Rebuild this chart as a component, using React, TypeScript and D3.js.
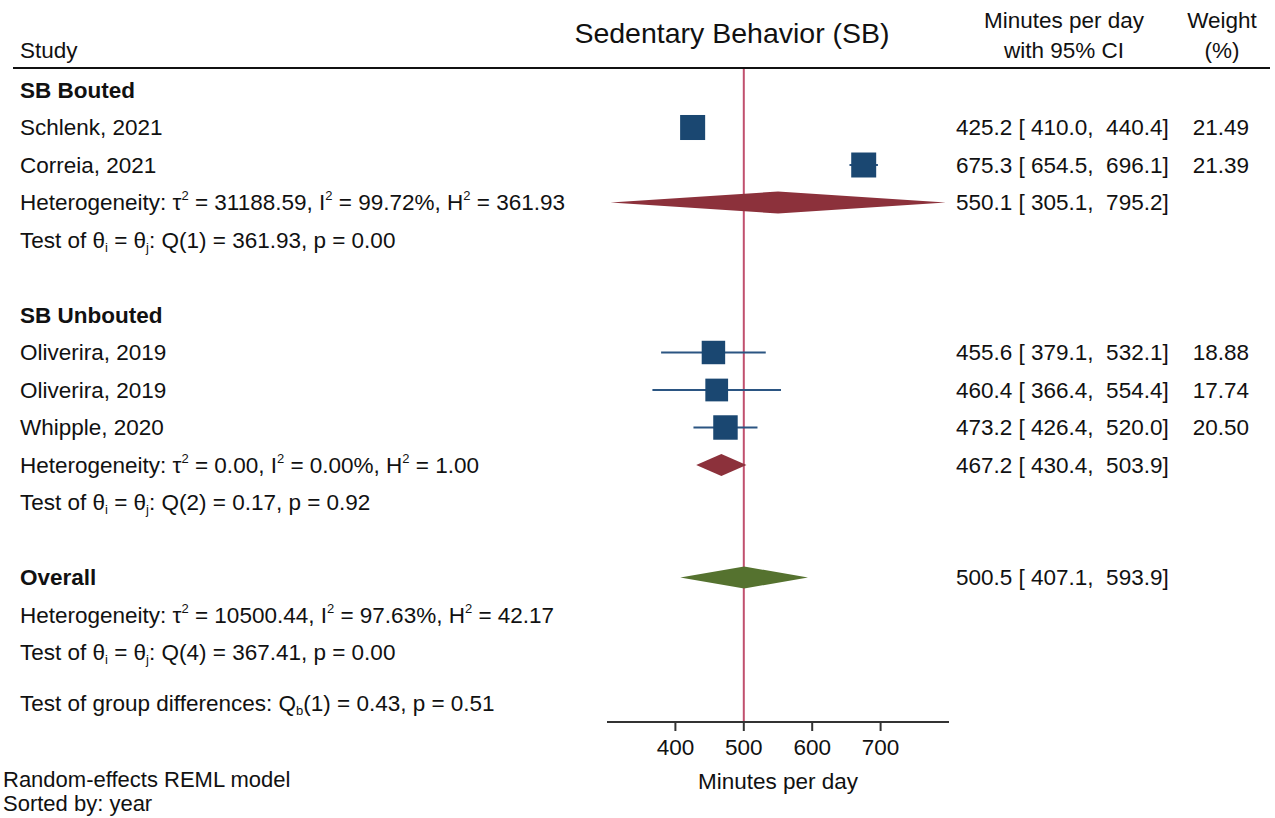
import React from 'react';
import * as d3 from 'd3';

// study rows
const studyNames = ['Schlenk, 2021', 'Correia, 2021', 'Oliverira, 2019', 'Oliverira, 2019', 'Whipple, 2020'];
const studyGroup = [0, 0, 1, 1, 1];
const studyEst = [425.2, 675.3, 455.6, 460.4, 473.2];
const studyLo = [410.0, 654.5, 379.1, 366.4, 426.4];
const studyHi = [440.4, 696.1, 532.1, 554.4, 520.0];
const studyWeight = [21.49, 21.39, 18.88, 17.74, 20.5];

// subgroup + overall summaries
const groupNames = ['SB Bouted', 'SB Unbouted', 'Overall'];
const groupEst = [550.1, 467.2, 500.5];
const groupLo = [305.1, 430.4, 407.1];
const groupHi = [795.2, 503.9, 593.9];
const groupTau2 = ['31188.59', '0.00', '10500.44'];
const groupI2 = ['99.72%', '0.00%', '97.63%'];
const groupH2 = ['361.93', '1.00', '42.17'];
const groupQdf = [1, 2, 4];
const groupQ = ['361.93', '0.17', '367.41'];
const groupP = ['0.00', '0.92', '0.00'];
const qbText = ['0.43', '0.51'];

const xTicks = [400, 500, 600, 700];

const W = 1275, H = 818;
const FONT = '"Liberation Sans", Arial, Helvetica, sans-serif';
const BLUE = '#1a4771';
const LINE_BLUE = '#2b5582';
const RED = '#8c313b';
const GREEN = '#55722f';
const REFLINE = '#c0506e';
const FS = 22.5;

const fmt = d3.format('.1f');

const App = () => {
  const x = d3.scaleLinear().domain([300, 800]).range([607, 949]);
  const y = d3.scaleLinear().domain([0, 1]).range([90, 127.5]);
  const boxSide = (w: number) => 5.4 * Math.sqrt(w);

  // lay out rows
  type Row = { kind: string; idx: number; pos: number };
  const rows: Row[] = [];
  let pos = 0;
  [0, 1].forEach((g) => {
    rows.push({ kind: 'header', idx: g, pos: pos++ });
    studyNames.forEach((_, i) => {
      if (studyGroup[i] === g) rows.push({ kind: 'study', idx: i, pos: pos++ });
    });
    rows.push({ kind: 'het', idx: g, pos: pos++ });
    rows.push({ kind: 'test', idx: g, pos: pos++ });
    pos++;
  });
  rows.push({ kind: 'header', idx: 2, pos: pos++ });
  rows.push({ kind: 'het', idx: 2, pos: pos++ });
  rows.push({ kind: 'test', idx: 2, pos: pos++ });
  const qbPos = pos + 0.35;

  const txt = { fontFamily: FONT, fontSize: FS, fill: '#111' } as React.CSSProperties;
  const pre = { whiteSpace: 'pre' } as React.CSSProperties;

  const diamond = (g: number, cy: number) => {
    const h = 11;
    return `M${x(groupLo[g])},${cy} L${x(groupEst[g])},${cy - h} L${x(groupHi[g])},${cy} L${x(groupEst[g])},${cy + h} Z`;
  };

  const ciText = (e: number, l: number, h: number) => `${fmt(e)} [ ${fmt(l)},  ${fmt(h)}]`;

  const axisY = 722;
  const sup = 13;

  return (
    <div style={{ position: 'absolute', left: 0, top: 0 }}>
      <svg width={W} height={H} style={{ display: 'block', background: '#fff' }}>
        {/* headings */}
        <text x={732} y={33} dy="0.35em" textAnchor="middle" style={{ ...txt, fontSize: 28.5 }}>Sedentary Behavior (SB)</text>
        <text x={20} y={50} dy="0.35em" style={txt}>Study</text>
        <text x={1064} y={20} dy="0.35em" textAnchor="middle" style={txt}>Minutes per day</text>
        <text x={1064} y={50} dy="0.35em" textAnchor="middle" style={txt}>with 95% CI</text>
        <text x={1222} y={20} dy="0.35em" textAnchor="middle" style={txt}>Weight</text>
        <text x={1222} y={50} dy="0.35em" textAnchor="middle" style={txt}>(%)</text>
        <line x1={13} x2={1270} y1={68} y2={68} stroke="#111" strokeWidth={2} />

        {/* reference line */}
        <line x1={x(500)} x2={x(500)} y1={69} y2={axisY} stroke={REFLINE} strokeWidth={2} />

        {rows.map((r, k) => {
          const cy = y(r.pos);
          if (r.kind === 'header') {
            const g = r.idx;
            return (
              <g key={k}>
                <text x={20} y={cy} dy="0.35em" style={{ ...txt, fontWeight: 'bold' }}>{groupNames[g]}</text>
                {g === 2 && (
                  <>
                    <path d={diamond(2, cy)} fill={GREEN} />
                    <text x={956} y={cy} dy="0.35em" style={{ ...txt, ...pre }}>{ciText(groupEst[2], groupLo[2], groupHi[2])}</text>
                  </>
                )}
              </g>
            );
          }
          if (r.kind === 'study') {
            const i = r.idx;
            const s = boxSide(studyWeight[i]);
            return (
              <g key={k}>
                <text x={20} y={cy} dy="0.35em" style={txt}>{studyNames[i]}</text>
                <line x1={x(studyLo[i])} x2={x(studyHi[i])} y1={cy} y2={cy} stroke={LINE_BLUE} strokeWidth={2} />
                <rect x={x(studyEst[i]) - s / 2} y={cy - s / 2} width={s} height={s} fill={BLUE} />
                <text x={956} y={cy} dy="0.35em" style={{ ...txt, ...pre }}>{ciText(studyEst[i], studyLo[i], studyHi[i])}</text>
                <text x={1249} y={cy} dy="0.35em" textAnchor="end" style={txt}>{d3.format('.2f')(studyWeight[i])}</text>
              </g>
            );
          }
          if (r.kind === 'het') {
            const g = r.idx;
            return (
              <g key={k}>
                <text x={20} y={cy} dy="0.35em" style={{ ...txt, ...pre }}>
                  Heterogeneity: τ<tspan dy={-10} fontSize={sup}>2</tspan>
                  <tspan dy={10}>{` = ${groupTau2[g]}, I`}</tspan>
                  <tspan dy={-10} fontSize={sup}>2</tspan>
                  <tspan dy={10}>{` = ${groupI2[g]}, H`}</tspan>
                  <tspan dy={-10} fontSize={sup}>2</tspan>
                  <tspan dy={10}>{` = ${groupH2[g]}`}</tspan>
                </text>
                {g < 2 && (
                  <>
                    <path d={diamond(g, cy)} fill={RED} />
                    <text x={956} y={cy} dy="0.35em" style={{ ...txt, ...pre }}>{ciText(groupEst[g], groupLo[g], groupHi[g])}</text>
                  </>
                )}
              </g>
            );
          }
          const g = r.idx;
          return (
            <text key={k} x={20} y={cy} dy="0.35em" style={{ ...txt, ...pre }}>
              Test of θ<tspan dy={4} fontSize={sup}>i</tspan>
              <tspan dy={-4}>{' = θ'}</tspan>
              <tspan dy={4} fontSize={sup}>j</tspan>
              <tspan dy={-4}>{`: Q(${groupQdf[g]}) = ${groupQ[g]}, p = ${groupP[g]}`}</tspan>
            </text>
          );
        })}

        <text x={20} y={y(qbPos)} dy="0.35em" style={{ ...txt, ...pre }}>
          Test of group differences: Q<tspan dy={4} fontSize={sup}>b</tspan>
          <tspan dy={-4}>{`(1) = ${qbText[0]}, p = ${qbText[1]}`}</tspan>
        </text>

        {/* x axis */}
        <line x1={x(300)} x2={x(800)} y1={axisY} y2={axisY} stroke="#333" strokeWidth={2} />
        {xTicks.map((t) => (
          <g key={t}>
            <line x1={x(t)} x2={x(t)} y1={axisY} y2={axisY + 9} stroke="#333" strokeWidth={2} />
            <text x={x(t)} y={axisY + 25} dy="0.35em" textAnchor="middle" style={txt}>{t}</text>
          </g>
        ))}
        <text x={(x(300) + x(800)) / 2} y={781} dy="0.35em" textAnchor="middle" style={txt}>Minutes per day</text>

        {/* notes */}
        <text x={3} y={779} dy="0.35em" style={{ ...txt, fontSize: 22 }}>Random-effects REML model</text>
        <text x={3} y={803} dy="0.35em" style={{ ...txt, fontSize: 22 }}>Sorted by: year</text>
      </svg>
    </div>
  );
};

export default App;
